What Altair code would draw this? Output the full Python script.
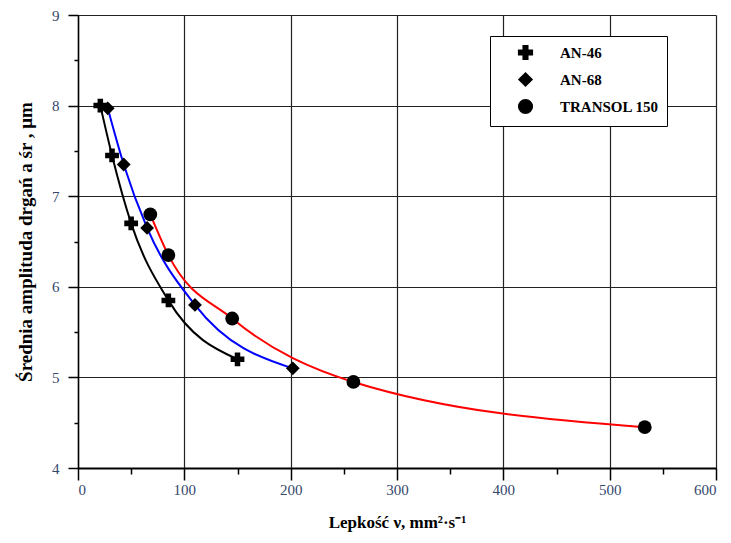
import altair as alt
import pandas as pd

series_names = ["AN-46", "AN-68", "TRANSOL 150"]
an46_x = [21, 32, 50, 85, 150]
an46_y = [8.0, 7.45, 6.7, 5.85, 5.2]
an68_x = [28, 43, 65, 110, 202]
an68_y = [7.97, 7.35, 6.65, 5.8, 5.1]
transol_x = [68, 85, 145, 259, 533]
transol_y = [6.8, 6.35, 5.65, 4.95, 4.45]

rows = []
for name, xs, ys in zip(series_names, [an46_x, an68_x, transol_x], [an46_y, an68_y, transol_y]):
    for i, (a, b) in enumerate(zip(xs, ys)):
        rows.append({"series": name, "v": a, "amp": b, "order": i})
df = pd.DataFrame(rows)

serif = "Liberation Serif"
label_color = "#34476b"

x_axis = alt.Axis(
    values=list(range(0, 601, 50)),
    labelExpr="datum.value % 100 === 0 ? format(datum.value, 'd') : ''",
    tickSize={"expr": "datum.value % 100 === 0 ? 12 : 6"},
    gridOpacity={"expr": "datum.value % 100 === 0 ? 1 : 0"},
    gridColor="#222222", gridWidth=1.2,
    domainColor="black", domainWidth=2, tickColor="black", tickWidth=1.5,
    labelFont=serif, labelFontSize=15, labelColor=label_color, labelPadding=2,
    title="Lepkość ν,  mm²·s⁻¹", titleFont=serif, titleFontSize=17, titleFontWeight="bold",
    titleColor="black", titlePadding=17,
)
y_axis = alt.Axis(
    values=[4, 4.5, 5, 5.5, 6, 6.5, 7, 7.5, 8, 8.5, 9],
    labelExpr="datum.value % 1 === 0 ? format(datum.value, 'd') : ''",
    tickSize={"expr": "datum.value % 1 === 0 ? 10 : 4"},
    gridOpacity={"expr": "datum.value % 1 === 0 ? 1 : 0"},
    gridColor="#222222", gridWidth=1.2,
    domainColor="black", domainWidth=1.5, tickColor="black", tickWidth=1.5,
    labelFont=serif, labelFontSize=15, labelColor=label_color, labelPadding=9,
    title="Średnia amplituda drgań a śr ,  μm", titleFont=serif, titleFontSize=19,
    titleFontWeight="bold", titleColor="black", titlePadding=16,
)

xs = alt.X("v:Q", scale=alt.Scale(domain=[0, 600], nice=False), axis=x_axis)
ys = alt.Y("amp:Q", scale=alt.Scale(domain=[4, 9], nice=False, zero=False), axis=y_axis)

lines = alt.Chart(df).mark_line(interpolate="monotone", strokeWidth=2).encode(
    x=xs, y=ys,
    color=alt.Color("series:N", scale=alt.Scale(domain=series_names, range=["black", "blue", "red"]), legend=None),
    order="order:Q",
)

points = alt.Chart(df).mark_point(filled=True, opacity=1, color="black", size=190).encode(
    x=xs, y=ys,
    shape=alt.Shape(
        "series:N",
        scale=alt.Scale(domain=series_names, range=["cross", "diamond", "circle"]),
        legend=alt.Legend(
            title=None, orient="none", legendX=412, legendY=21,
            strokeColor="black", fillColor="white", padding=8,
            symbolSize=230, symbolFillColor="black", symbolStrokeColor="black",
            symbolOffset=19, labelOffset=26, rowPadding=4,
            labelFont=serif, labelFontSize=15, labelFontWeight="bold", labelColor="black",
        ),
    ),
)

chart = (lines + points).resolve_legend(color="independent", shape="independent").properties(
    width=638, height=453,
    autosize=alt.AutoSizeParams(type="none"),
    padding={"left": 70, "top": 7, "right": 7, "bottom": 72},
).configure_view(stroke=None).configure(background="white")

chart.save("out.html", embed_options={"renderer": "svg", "actions": False})
